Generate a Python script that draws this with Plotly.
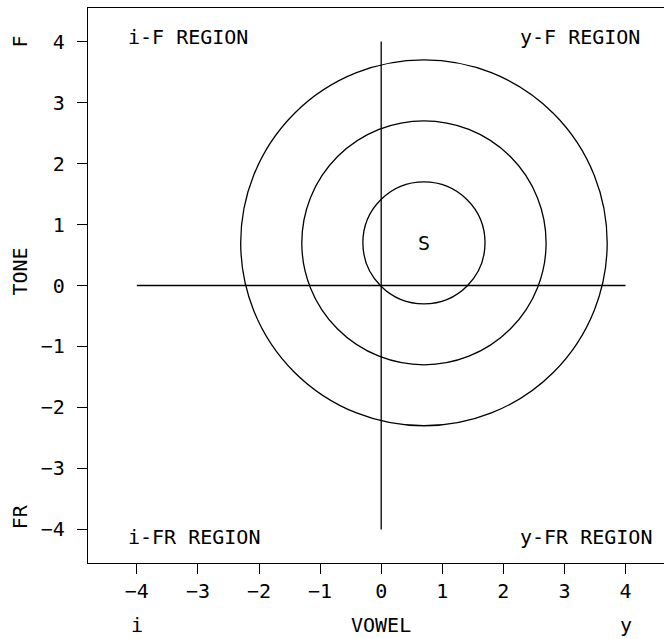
import plotly.graph_objects as go

# Data
center = (0.7, 0.7)
radii = [1, 2, 3]
hline_x = [-4, 4]
hline_y = [0, 0]
vline_x = [0, 0]
vline_y = [-4, 4]
tick_vals = [-4, -3, -2, -1, 0, 1, 2, 3, 4]
region_labels = ["i-F REGION", "y-F REGION", "i-FR REGION", "y-FR REGION"]
region_x = [-4.17, 2.24, -4.17, 2.24]
region_y = [4.07, 4.07, -4.13, -4.13]

FONT = "DejaVu Sans Mono"
fsize = 20

fig = go.Figure()
fig.add_trace(go.Scatter(x=hline_x, y=hline_y, mode="lines",
                         line=dict(color="black", width=1.3), showlegend=False, hoverinfo="skip"))
fig.add_trace(go.Scatter(x=vline_x, y=vline_y, mode="lines",
                         line=dict(color="black", width=1.3), showlegend=False, hoverinfo="skip"))

for r in radii:
    fig.add_shape(type="circle", xref="x", yref="y",
                  x0=center[0] - r, x1=center[0] + r,
                  y0=center[1] - r, y1=center[1] + r,
                  line=dict(color="black", width=1.3))

fig.add_annotation(x=center[0], y=center[1], text="S", showarrow=False,
                   font=dict(family=FONT, size=fsize, color="black"))

for t, x, y in zip(region_labels, region_x, region_y):
    fig.add_annotation(x=x, y=y, text=t, showarrow=False, xanchor="left", yanchor="middle",
                       font=dict(family=FONT, size=fsize, color="black"))

# Outside labels
fig.add_annotation(xref="x", yref="paper", x=0, y=-0.112, text="VOWEL", showarrow=False,
                   yanchor="middle", font=dict(family=FONT, size=fsize, color="black"))
fig.add_annotation(xref="x", yref="paper", x=-4, y=-0.112, text="i", showarrow=False,
                   yanchor="middle", font=dict(family=FONT, size=fsize, color="black"))
fig.add_annotation(xref="x", yref="paper", x=4, y=-0.112, text="y", showarrow=False,
                   yanchor="middle", font=dict(family=FONT, size=fsize, color="black"))
fig.add_annotation(xref="paper", yref="y", x=-0.118, y=0.23, text="TONE", showarrow=False,
                   textangle=-90, xanchor="center", font=dict(family=FONT, size=fsize, color="black"))
fig.add_annotation(xref="paper", yref="y", x=-0.118, y=4.0, text="F", showarrow=False,
                   textangle=-90, xanchor="center", font=dict(family=FONT, size=fsize, color="black"))
fig.add_annotation(xref="paper", yref="y", x=-0.118, y=-3.8, text="FR", showarrow=False,
                   textangle=-90, xanchor="center", font=dict(family=FONT, size=fsize, color="black"))

fig.update_xaxes(range=[-4.8, 4.63], tickvals=tick_vals, ticks="outside", ticklen=10,
                 tickcolor="black", tickwidth=1.3, showgrid=False, zeroline=False,
                 showline=True, linecolor="black", linewidth=1.3, mirror=True,
                 ticklabelstandoff=0,
                 tickfont=dict(family=FONT, size=fsize, color="black"))
fig.update_yaxes(range=[-4.55, 4.55], tickvals=tick_vals, ticks="outside", ticklen=10,
                 tickcolor="black", tickwidth=1.3, showgrid=False, zeroline=False,
                 showline=True, linecolor="black", linewidth=1.3, mirror=False,
                 ticklabelstandoff=8,
                 tickfont=dict(family=FONT, size=fsize, color="black"))

fig.update_layout(width=664, height=639, margin=dict(l=88, r=0, t=8, b=76),
                  plot_bgcolor="white", paper_bgcolor="white", showlegend=False)

fig.write_html("out.html")
